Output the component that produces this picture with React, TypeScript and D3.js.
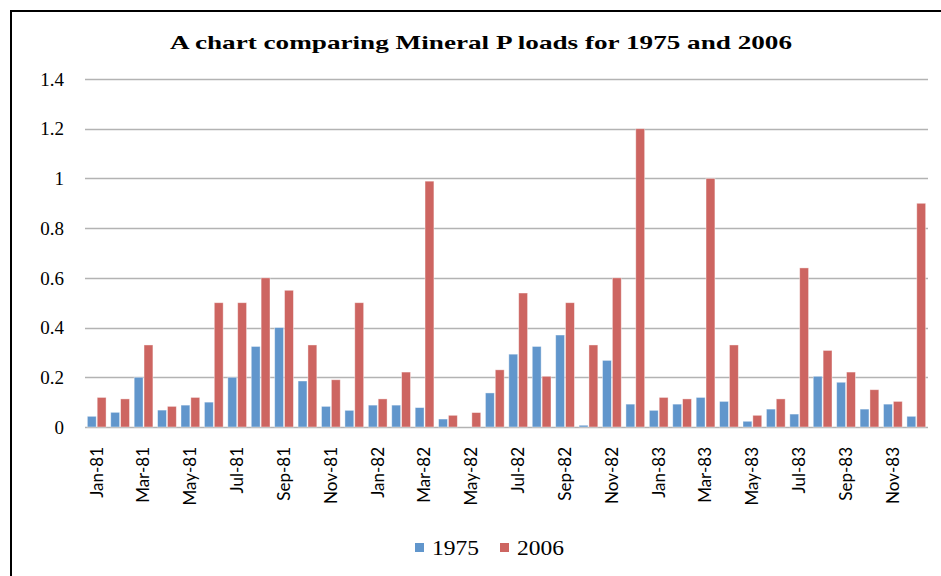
import React, { useEffect, useRef } from 'react';
import * as d3 from 'd3';

const months = [
  'Jan-81', 'Feb-81', 'Mar-81', 'Apr-81', 'May-81', 'Jun-81', 'Jul-81', 'Aug-81', 'Sep-81', 'Oct-81', 'Nov-81', 'Dec-81',
  'Jan-82', 'Feb-82', 'Mar-82', 'Apr-82', 'May-82', 'Jun-82', 'Jul-82', 'Aug-82', 'Sep-82', 'Oct-82', 'Nov-82', 'Dec-82',
  'Jan-83', 'Feb-83', 'Mar-83', 'Apr-83', 'May-83', 'Jun-83', 'Jul-83', 'Aug-83', 'Sep-83', 'Oct-83', 'Nov-83', 'Dec-83',
];

const loads1975 = [
  0.043, 0.059, 0.2, 0.068, 0.088, 0.1, 0.2, 0.324, 0.4, 0.185, 0.083, 0.067,
  0.088, 0.088, 0.078, 0.032, 0, 0.137, 0.293, 0.324, 0.37, 0.007, 0.268, 0.092,
  0.067, 0.092, 0.119, 0.103, 0.023, 0.072, 0.052, 0.204, 0.18, 0.072, 0.092, 0.043,
];

const loads2006 = [
  0.119, 0.113, 0.33, 0.083, 0.119, 0.5, 0.5, 0.6, 0.55, 0.33, 0.19, 0.5,
  0.113, 0.221, 0.989, 0.047, 0.058, 0.23, 0.539, 0.204, 0.5, 0.33, 0.6, 1.2,
  0.119, 0.113, 1.0, 0.33, 0.047, 0.113, 0.64, 0.308, 0.221, 0.15, 0.103, 0.9,
];

const seriesNames = ['1975', '2006'];
const colors = ['#6196cc', '#cd6561'];
const yTicks = [0, 0.2, 0.4, 0.6, 0.8, 1, 1.2, 1.4];

export default function App() {
  const ref = useRef<SVGSVGElement>(null);

  useEffect(() => {
    const svg = d3.select(ref.current);
    svg.selectAll('*').remove();

    const left = 85, right = 928, top = 79, bottom = 427;

    const x = d3.scaleBand<string>().domain(months).range([left, right]).paddingInner(0.2).paddingOuter(0.1);
    const xs = d3.scaleBand<string>().domain(seriesNames).range([0, x.bandwidth()]).paddingInner(0.1);
    const y = d3.scaleLinear().domain([0, 1.4]).range([bottom, top]);

    // frame (top + left)
    svg.append('path')
      .attr('d', 'M11,576 L11,11 L941,11')
      .attr('fill', 'none')
      .attr('stroke', '#000')
      .attr('stroke-width', 2);

    svg.append('text')
      .attr('x', 481).attr('y', 49)
      .attr('text-anchor', 'middle')
      .attr('font-family', 'Liberation Serif')
      .attr('font-weight', 'bold')
      .attr('font-size', 19)
      .attr('textLength', 622)
      .attr('lengthAdjust', 'spacingAndGlyphs')
      .text('A chart comparing Mineral P loads for 1975 and 2006');

    // gridlines
    svg.append('g')
      .selectAll('line')
      .data(yTicks)
      .enter()
      .append('line')
      .attr('x1', left).attr('x2', right)
      .attr('y1', d => Math.round(y(d)) + 0.5).attr('y2', d => Math.round(y(d)) + 0.5)
      .attr('stroke', '#b3b3b3')
      .attr('stroke-width', 1.5);

    svg.append('g')
      .selectAll('text')
      .data(yTicks)
      .enter()
      .append('text')
      .attr('x', 64).attr('y', d => y(d))
      .attr('dy', '0.35em')
      .attr('text-anchor', 'end')
      .attr('font-family', 'Liberation Serif')
      .attr('font-size', 19)
      .text(d => String(d));

    const data = seriesNames.map((name, si) => ({ name, values: si === 0 ? loads1975 : loads2006, color: colors[si] }));

    data.forEach(s => {
      svg.append('g')
        .selectAll('rect')
        .data(s.values)
        .enter()
        .append('rect')
        .attr('x', (d, i) => (x(months[i]) as number) + (xs(s.name) as number))
        .attr('y', d => y(d))
        .attr('width', xs.bandwidth())
        .attr('height', d => bottom - y(d))
        .attr('fill', s.color)
        .attr('stroke', '#ffffff')
        .attr('stroke-opacity', 0.5)
        .attr('stroke-width', 0.8);
    });

    // x labels, every other month
    svg.append('g')
      .selectAll('text')
      .data(months.filter((m, i) => i % 2 === 0))
      .enter()
      .append('text')
      .attr('transform', d => `translate(${(x(d) as number) + x.bandwidth() / 2},447) rotate(-90)`)
      .attr('dy', '0.35em')
      .attr('text-anchor', 'end')
      .attr('font-family', 'Lato')
      .attr('font-size', 17)
      .text(d => d);

    // legend
    const legendX = [415, 500];
    data.forEach((s, i) => {
      svg.append('rect')
        .attr('x', legendX[i]).attr('y', 543)
        .attr('width', 9).attr('height', 9)
        .attr('fill', s.color);
      svg.append('text')
        .attr('x', legendX[i] + 17).attr('y', 555)
        .attr('font-family', 'Liberation Serif')
        .attr('font-size', 20)
        .attr('textLength', 47)
        .attr('lengthAdjust', 'spacingAndGlyphs')
        .text(s.name);
    });
  }, []);

  return (
    <svg ref={ref} width={941} height={576}
      style={{ position: 'absolute', left: 0, top: 0, background: '#fff' }} />
  );
}
